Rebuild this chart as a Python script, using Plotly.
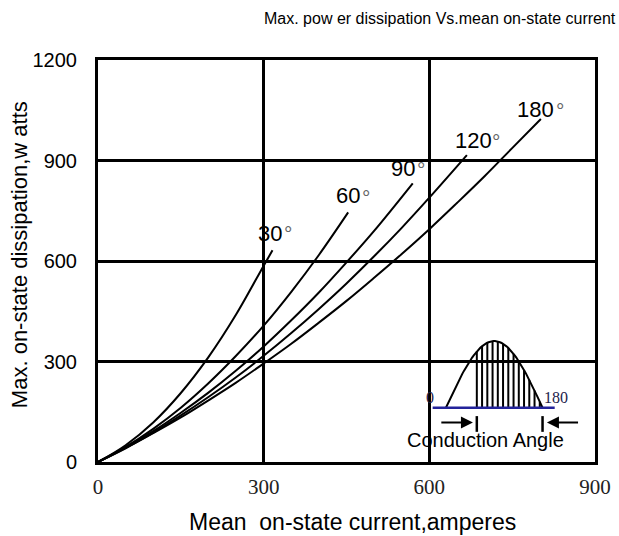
import numpy as np
import plotly.graph_objects as go

# ---- data ----
I30 = [0, 50, 100, 150, 200, 250, 300, 316]
P30 = [0, 50, 118, 206, 313, 440, 586, 632]

I60 = [0, 50, 100, 150, 200, 250, 300, 350, 400, 453]
P60 = [0, 45, 99, 162, 235, 317, 407, 508, 618, 745]

I90 = [0, 50, 100, 150, 200, 250, 300, 350, 400, 450, 500, 570]
P90 = [0, 43, 92, 147, 207, 273, 345, 423, 506, 596, 690, 832]

I120 = [0, 50, 100, 150, 200, 250, 300, 350, 400, 450, 500, 550, 600, 668]
P120 = [0, 42, 88, 139, 194, 253, 317, 385, 457, 533, 614, 699, 789, 916]

I180 = [0, 50, 100, 150, 200, 250, 300, 350, 400, 450, 500, 550, 600, 650, 700, 750, 802]
P180 = [0, 41, 86, 133, 184, 237, 294, 353, 416, 481, 550, 621, 695, 773, 853, 937, 1024]

curve_labels = ["30", "60", "90", "120", "180"]
x_ticks = [0, 300, 600, 900]
y_ticks = [0, 300, 600, 900, 1200]

title_text = "Max. pow er dissipation Vs.mean on-state current"
x_title = "Mean  on-state current,amperes"
y_title = "Max. on-state dissipation,w atts"
inset_text = "Conduction Angle"

series = [(I30, P30), (I60, P60), (I90, P90), (I120, P120), (I180, P180)]
label_pos = [(286, 682), (428, 797), (527, 876), (642, 961), (756, 1051)]
degree_pos = [(344, 681), (485, 791), (584, 872), (720, 958), (836, 1048)]

fig = go.Figure()
for (xs, ys) in series:
    fig.add_trace(go.Scatter(x=xs, y=ys, mode="lines", line=dict(color="black", width=2, shape="spline"),
                             hoverinfo="skip", showlegend=False))

annotations = []
for lab, (lx, ly), (dx, dy) in zip(curve_labels, label_pos, degree_pos):
    annotations.append(dict(x=lx, y=ly, xref="x", yref="y", xanchor="left", yanchor="middle",
                            text=lab, showarrow=False,
                            font=dict(family="Liberation Sans, Arial", size=22, color="black")))
    annotations.append(dict(x=dx, y=dy, xref="x", yref="y", xanchor="center", yanchor="middle",
                            text="°", showarrow=False,
                            font=dict(family="Liberation Sans, Arial", size=21, color="#666")))

# ---- inset: conduction-angle sketch ----
base_x0, base_x1, base_y = 606, 827, 162
wave_x0, wave_x1, wave_amp = 630, 805, 199
cond_x0 = 686
th = np.linspace(0, np.pi, 60)
wx = wave_x0 + (wave_x1 - wave_x0) * th / np.pi
wy = base_y + wave_amp * np.sin(th)
fig.add_trace(go.Scatter(x=wx, y=wy, mode="lines", line=dict(color="black", width=2),
                         hoverinfo="skip", showlegend=False))
hx, hy = [], []
for xv in np.linspace(cond_x0, 800, 13):
    t = (xv - wave_x0) / (wave_x1 - wave_x0) * np.pi
    hx += [xv, xv, None]
    hy += [base_y, base_y + wave_amp * np.sin(t), None]
fig.add_trace(go.Scatter(x=hx, y=hy, mode="lines", line=dict(color="black", width=2),
                         hoverinfo="skip", showlegend=False))
fig.add_trace(go.Scatter(x=[base_x0, base_x1], y=[base_y, base_y], mode="lines",
                         line=dict(color="#23239a", width=2.5), hoverinfo="skip", showlegend=False))
fig.add_trace(go.Scatter(x=[cond_x0, cond_x0, None, wave_x1, wave_x1], y=[137, 90, None, 137, 90], mode="lines",
                         line=dict(color="black", width=2.5), hoverinfo="skip", showlegend=False))
annotations.append(dict(x=679, y=118, ax=619, ay=118, xref="x", yref="y", axref="x", ayref="y",
                        showarrow=True, arrowhead=2, arrowsize=1.2, arrowwidth=2, arrowcolor="black", text=""))
annotations.append(dict(x=813, y=118, ax=872, ay=118, xref="x", yref="y", axref="x", ayref="y",
                        showarrow=True, arrowhead=2, arrowsize=1.2, arrowwidth=2, arrowcolor="black", text=""))
annotations.append(dict(x=602, y=194, xref="x", yref="y", text="0", showarrow=False,
                        font=dict(family="Liberation Serif, Times New Roman", size=16, color="#22224a")))
annotations.append(dict(x=830, y=194, xref="x", yref="y", text="180", showarrow=False,
                        font=dict(family="Liberation Serif, Times New Roman", size=16, color="#22224a")))
annotations.append(dict(x=702, y=66, xref="x", yref="y", text=inset_text, showarrow=False,
                        font=dict(family="Liberation Sans, Arial", size=20, color="black")))

# titles
annotations.append(dict(x=0.688, y=1.104, xref="paper", yref="paper", xanchor="center", yanchor="middle",
                        text=title_text, showarrow=False,
                        font=dict(family="Liberation Sans, Arial", size=16, color="black")))
annotations.append(dict(x=0.513, y=-0.149, xref="paper", yref="paper", xanchor="center", yanchor="middle",
                        text=x_title, showarrow=False,
                        font=dict(family="Liberation Sans, Arial", size=23, color="black")))
annotations.append(dict(x=-0.159, y=0.517, xref="paper", yref="paper", xanchor="center", yanchor="middle",
                        text=y_title, showarrow=False,
                        textangle=-90, font=dict(family="Liberation Sans, Arial", size=22, color="black")))

fig.update_layout(
    width=619, height=536,
    margin=dict(l=98, r=24, t=60, b=74, autoexpand=False),
    plot_bgcolor="white", paper_bgcolor="white",
    annotations=annotations,
    showlegend=False,
)
fig.update_xaxes(range=[0, 900], tickvals=x_ticks, ticktext=[str(v) for v in x_ticks],
                 showgrid=True, gridcolor="black", gridwidth=2.5, zeroline=False,
                 showline=True, mirror=True, linecolor="black", linewidth=3,
                 ticks="", ticklabelstandoff=4, automargin=False,
                 tickfont=dict(family="Liberation Serif, Times New Roman", size=21, color="#222"))
fig.update_yaxes(range=[0, 1200], tickvals=y_ticks, ticktext=[str(v) for v in y_ticks],
                 showgrid=True, gridcolor="black", gridwidth=2.5, zeroline=False,
                 showline=True, mirror=True, linecolor="black", linewidth=3,
                 ticks="", ticklabelstandoff=14, automargin=False,
                 tickfont=dict(family="Liberation Sans, Arial", size=20, color="black"))

fig.write_html("out.html", config={"displayModeBar": False},
               post_script="document.body.style.margin='0';document.body.style.padding='0';")
